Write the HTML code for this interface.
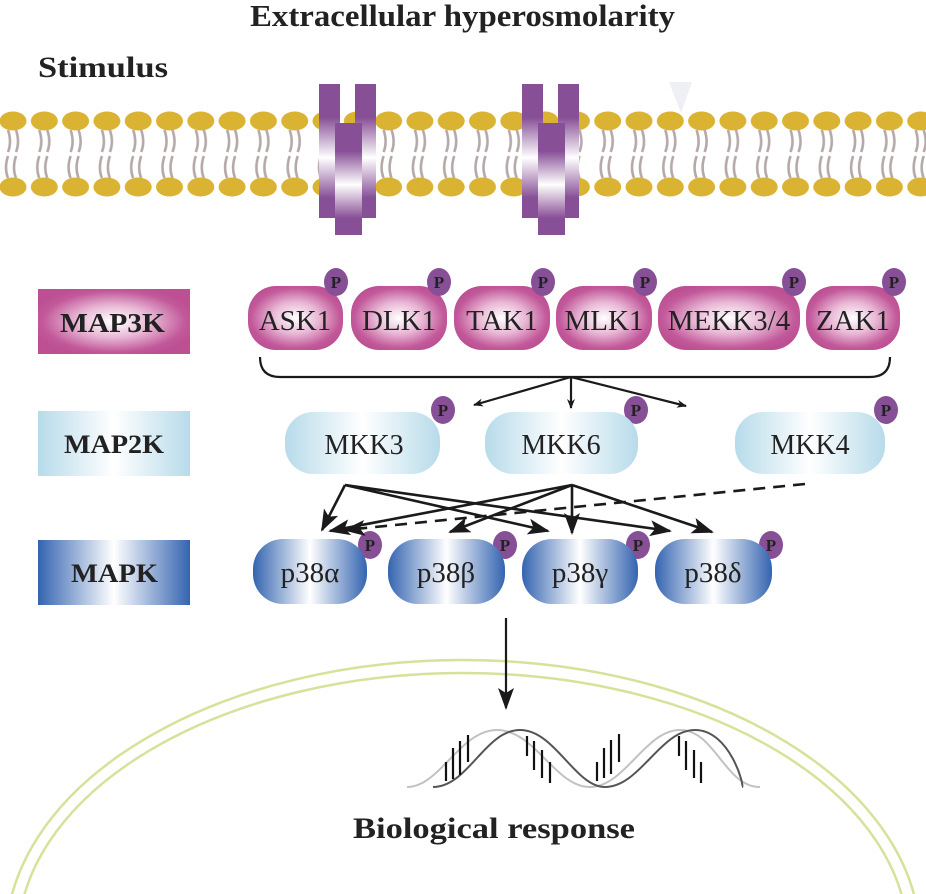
<!DOCTYPE html>
<html><head><meta charset="utf-8"><style>
html,body{margin:0;padding:0;background:#fff;overflow:hidden;width:926px;height:894px;}
svg{display:block;}
text{font-family:"Liberation Serif",serif;}
</style></head><body>
<svg width="926" height="894" viewBox="0 0 926 894" xmlns="http://www.w3.org/2000/svg">
<defs>
<clipPath id="cl"><rect x="0" y="0" width="926" height="894"/></clipPath>
<pattern id="lip" x="-3" y="0" width="31.3" height="894" patternUnits="userSpaceOnUse">
<ellipse cx="16" cy="121" rx="13.5" ry="9.5" fill="#dbb332"/>
<ellipse cx="16" cy="187" rx="13.5" ry="9.5" fill="#dbb332"/>
<path d="M11 130 q4 12 0 22 M19 130 q4 12 0 22 M11 156 q-4 12 0 22 M19 156 q-4 12 0 22" stroke="#b5a8a8" stroke-width="2.6" fill="none"/>
</pattern>
<linearGradient id="pv" x1="0" y1="0" x2="0" y2="1">
<stop offset="0" stop-color="#874f96"/><stop offset="0.25" stop-color="#874f96"/><stop offset="0.55" stop-color="#fff"/><stop offset="0.85" stop-color="#874f96"/><stop offset="1" stop-color="#874f96"/>
</linearGradient>
<radialGradient id="m3" cx="0.5" cy="0.5" r="0.55">
<stop offset="0" stop-color="#fff"/><stop offset="0.45" stop-color="#e8b7d5"/><stop offset="0.85" stop-color="#c2599a"/><stop offset="1" stop-color="#bc5093"/>
</radialGradient>
<linearGradient id="m2" x1="0" y1="0" x2="1" y2="0">
<stop offset="0" stop-color="#b7dbea"/><stop offset="0.5" stop-color="#fff"/><stop offset="1" stop-color="#b7dbea"/>
</linearGradient>
<linearGradient id="mk" x1="0" y1="0" x2="1" y2="0">
<stop offset="0" stop-color="#3464b0"/><stop offset="0.5" stop-color="#fff"/><stop offset="1" stop-color="#3464b0"/>
</linearGradient>
<marker id="ah" markerWidth="10" markerHeight="8" refX="9" refY="4" orient="auto" markerUnits="userSpaceOnUse">
<path d="M0 0 L10 4 L0 8 L3 4z" fill="#1a1a1a"/>
</marker>
<marker id="ah2" markerWidth="22" markerHeight="16" refX="20" refY="8" orient="auto" markerUnits="userSpaceOnUse">
<path d="M0 0 L22 8 L0 16 L5 8z" fill="#1a1a1a"/>
</marker>
</defs>
<g clip-path="url(#cl)">
<text x="250" y="26" font-size="31" font-weight="bold" fill="#222" textLength="425" lengthAdjust="spacingAndGlyphs">Extracellular hyperosmolarity</text>
<text x="38" y="77" font-size="30" font-weight="bold" fill="#222" textLength="130" lengthAdjust="spacingAndGlyphs">Stimulus</text>
<path d="M669 82 L692 82 L681 113z" fill="#eef0f4"/>

<rect x="0" y="105" width="926" height="100" fill="url(#lip)"/>

<g>
<rect x="319" y="84" width="21" height="134" fill="url(#pv)"/>
<rect x="355" y="84" width="21" height="134" fill="url(#pv)"/>
<rect x="335" y="123" width="27" height="112" fill="url(#pv)"/>
<rect x="522" y="84" width="21" height="134" fill="url(#pv)"/>
<rect x="558" y="84" width="21" height="134" fill="url(#pv)"/>
<rect x="538" y="123" width="27" height="112" fill="url(#pv)"/>
</g>

<rect x="38" y="289" width="152" height="65" fill="url(#m3)"/>
<text x="60" y="332" font-size="27" font-weight="bold" fill="#222" textLength="105" lengthAdjust="spacingAndGlyphs">MAP3K</text>
<rect x="38" y="411" width="152" height="65" fill="url(#m2)"/>
<text x="64" y="453" font-size="26" font-weight="bold" fill="#222" textLength="100" lengthAdjust="spacingAndGlyphs">MAP2K</text>
<rect x="38" y="540" width="152" height="65" fill="url(#mk)"/>
<text x="71" y="582" font-size="26" font-weight="bold" fill="#222" textLength="87" lengthAdjust="spacingAndGlyphs">MAPK</text>

<g font-size="29" fill="#222" text-anchor="middle">
<rect x="248" y="286" width="95" height="64" rx="28" fill="url(#m3)"/><text x="295" y="330">ASK1</text>
<rect x="351" y="286" width="96" height="64" rx="28" fill="url(#m3)"/><text x="399" y="330">DLK1</text>
<rect x="454" y="286" width="96" height="64" rx="28" fill="url(#m3)"/><text x="502" y="330">TAK1</text>
<rect x="556" y="286" width="96" height="64" rx="28" fill="url(#m3)"/><text x="604" y="330">MLK1</text>
<rect x="658" y="286" width="142" height="64" rx="28" fill="url(#m3)"/><text x="729" y="330">MEKK3/4</text>
<rect x="806" y="286" width="94" height="64" rx="28" fill="url(#m3)"/><text x="853" y="330">ZAK1</text>
</g>
<g fill="#874f96">
<ellipse cx="336" cy="282" rx="12" ry="14"/><ellipse cx="439" cy="282" rx="12" ry="14"/><ellipse cx="543" cy="282" rx="12" ry="14"/><ellipse cx="645" cy="282" rx="12" ry="14"/><ellipse cx="794" cy="282" rx="12" ry="14"/><ellipse cx="894" cy="282" rx="12" ry="14"/>
<ellipse cx="443" cy="410" rx="12" ry="14"/><ellipse cx="636" cy="410" rx="12" ry="14"/><ellipse cx="886" cy="410" rx="12" ry="14"/>
<ellipse cx="370" cy="545" rx="12" ry="14"/><ellipse cx="505" cy="545" rx="12" ry="14"/><ellipse cx="638" cy="545" rx="12" ry="14"/><ellipse cx="771" cy="545" rx="12" ry="14"/>
</g>
<g font-size="17" font-weight="bold" fill="#222" text-anchor="middle">
<text x="336" y="288">P</text><text x="439" y="288">P</text><text x="543" y="288">P</text><text x="645" y="288">P</text><text x="794" y="288">P</text><text x="894" y="288">P</text>
<text x="443" y="416">P</text><text x="636" y="416">P</text><text x="886" y="416">P</text>
<text x="370" y="551">P</text><text x="505" y="551">P</text><text x="638" y="551">P</text><text x="771" y="551">P</text>
</g>

<path d="M260 357 Q260 377 280 377 L870 377 Q890 377 890 357" stroke="#1a1a1a" stroke-width="2.2" fill="none"/>
<g stroke="#1a1a1a" stroke-width="2.2" fill="none">
<line x1="571" y1="377" x2="474" y2="405" marker-end="url(#ah)"/>
<line x1="571" y1="377" x2="571" y2="408" marker-end="url(#ah)"/>
<line x1="571" y1="377" x2="686" y2="406" marker-end="url(#ah)"/>
</g>

<g font-size="28" fill="#222" text-anchor="middle">
<rect x="285" y="412" width="155" height="62" rx="28" fill="url(#m2)"/><text x="364" y="454">MKK3</text>
<rect x="485" y="412" width="153" height="62" rx="28" fill="url(#m2)"/><text x="561" y="454">MKK6</text>
<rect x="735" y="412" width="150" height="62" rx="28" fill="url(#m2)"/><text x="810" y="454">MKK4</text>
</g>

<g stroke="#1a1a1a" stroke-width="2.6" fill="none">
<line x1="345" y1="485" x2="322" y2="530" marker-end="url(#ah2)"/>
<line x1="345" y1="485" x2="548" y2="531" marker-end="url(#ah2)"/>
<line x1="345" y1="485" x2="670" y2="531" marker-end="url(#ah2)"/>
<line x1="572" y1="485" x2="330" y2="531" marker-end="url(#ah2)"/>
<line x1="572" y1="485" x2="450" y2="532" marker-end="url(#ah2)"/>
<line x1="572" y1="485" x2="572" y2="533" marker-end="url(#ah2)"/>
<line x1="572" y1="485" x2="712" y2="532" marker-end="url(#ah2)"/>
<line x1="805" y1="484" x2="345" y2="530" stroke-dasharray="12,8" marker-end="url(#ah2)"/>
</g>

<g font-size="29" fill="#222" text-anchor="middle">
<rect x="253" y="539" width="114" height="65" rx="30" fill="url(#mk)"/><text x="310" y="582">p38α</text>
<rect x="388" y="539" width="117" height="65" rx="30" fill="url(#mk)"/><text x="446" y="582">p38β</text>
<rect x="522" y="539" width="116" height="65" rx="30" fill="url(#mk)"/><text x="580" y="582">p38γ</text>
<rect x="655" y="539" width="117" height="65" rx="30" fill="url(#mk)"/><text x="713" y="582">p38δ</text>
</g>

<ellipse cx="463" cy="940" rx="457" ry="280" stroke="#d5e29a" stroke-width="2.5" fill="none"/>
<ellipse cx="463" cy="940" rx="445" ry="267" stroke="#d5e29a" stroke-width="2.5" fill="none"/>

<line x1="506" y1="618" x2="506" y2="708" stroke="#1a1a1a" stroke-width="2.2" marker-end="url(#ah2)"/>

<g fill="none" stroke-width="2">
<path d="M407 787 C440 787 460 730 497 730 C535 730 555 787 590 787 C625 787 645 730 680 730 C715 730 725 787 760 787" stroke="#bfc3c3"/>
<path d="M433 787 C468 787 485 730 520 730 C555 730 575 787 605 787 C640 787 660 730 695 730 C730 730 745 787 742 787" stroke="#555"/>
<g stroke="#111" stroke-width="2.2">
<line x1="446" y1="781" x2="446" y2="762"/><line x1="453" y1="779" x2="453" y2="748"/><line x1="460" y1="775" x2="460" y2="741"/><line x1="468" y1="762" x2="468" y2="735"/>
<line x1="527" y1="736" x2="527" y2="756"/><line x1="534" y1="741" x2="534" y2="770"/><line x1="542" y1="750" x2="542" y2="778"/><line x1="550" y1="762" x2="550" y2="783"/>
<line x1="597" y1="781" x2="597" y2="762"/><line x1="604" y1="778" x2="604" y2="748"/><line x1="611" y1="774" x2="611" y2="740"/><line x1="619" y1="762" x2="619" y2="734"/>
<line x1="679" y1="736" x2="679" y2="756"/><line x1="686" y1="741" x2="686" y2="770"/><line x1="694" y1="750" x2="694" y2="778"/><line x1="701" y1="762" x2="701" y2="783"/>
</g>
</g>

<text x="353" y="838" font-size="30" font-weight="bold" fill="#222" textLength="282" lengthAdjust="spacingAndGlyphs">Biological response</text>
</g>
</svg>
</body></html>
